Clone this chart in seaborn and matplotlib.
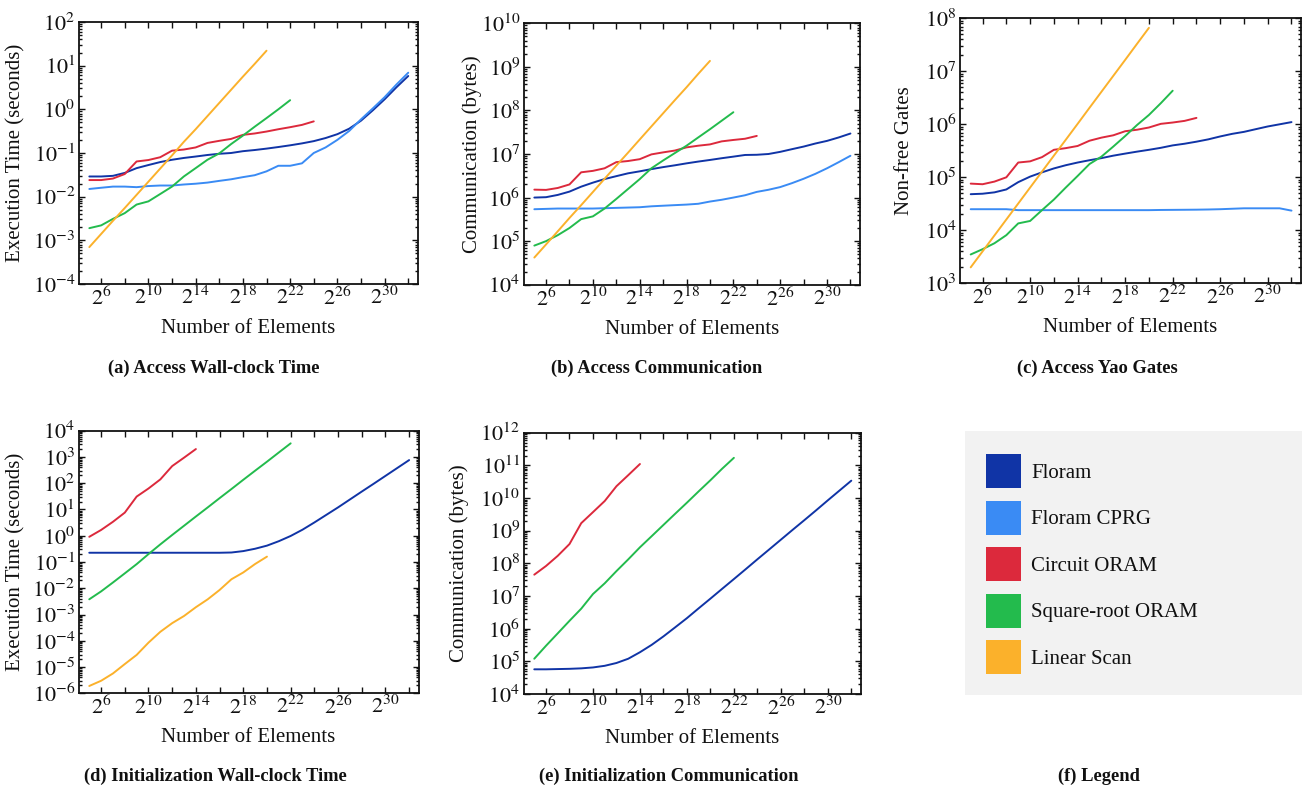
import math
import matplotlib
matplotlib.use("Agg")
import matplotlib.pyplot as plt
import seaborn as sns
import pandas as pd
from matplotlib.ticker import FixedLocator, FuncFormatter, LogLocator, NullFormatter
from matplotlib.patches import Patch

# ---------------- data ----------------
series_names = ["Floram", "Floram CPRG", "Circuit ORAM", "Square-root ORAM", "Linear Scan"]
series_colors = ["#1034A6", "#3A8BF4", "#DC293C", "#23BB4D", "#FBB12B"]

exp_5_32 = [5, 6, 7, 8, 9, 10, 11, 12, 13, 14, 15, 16, 17, 18, 19, 20, 21, 22, 23, 24, 25, 26, 27, 28, 29, 30, 31, 32]
exp_5_24 = [5, 6, 7, 8, 9, 10, 11, 12, 13, 14, 15, 16, 17, 18, 19, 20, 21, 22, 23, 24]
exp_5_22 = [5, 6, 7, 8, 9, 10, 11, 12, 13, 14, 15, 16, 17, 18, 19, 20, 21, 22]
exp_5_20 = [5, 6, 7, 8, 9, 10, 11, 12, 13, 14, 15, 16, 17, 18, 19, 20]
exp_5_14 = [5, 6, 7, 8, 9, 10, 11, 12, 13, 14]

# (a) Access wall-clock time (seconds)
a_floram = [0.029, 0.029, 0.030, 0.035, 0.045, 0.053, 0.062, 0.070, 0.077, 0.083, 0.090, 0.096, 0.10, 0.11,
            0.117, 0.126, 0.137, 0.15, 0.166, 0.187, 0.22, 0.27, 0.36, 0.55, 0.95, 1.7, 3.2, 5.8]
a_cprg = [0.015, 0.016, 0.017, 0.017, 0.0165, 0.0175, 0.018, 0.018, 0.019, 0.0198, 0.021, 0.023, 0.025, 0.028,
          0.031, 0.038, 0.051, 0.051, 0.058, 0.10, 0.134, 0.20, 0.32, 0.59, 1.05, 1.9, 3.7, 6.9]
a_circuit = [0.024, 0.024, 0.026, 0.033, 0.064, 0.069, 0.080, 0.113, 0.12, 0.134, 0.17, 0.19, 0.21, 0.26,
             0.28, 0.31, 0.35, 0.39, 0.44, 0.53]
a_sqrt = [0.0019, 0.0022, 0.0031, 0.0042, 0.0066, 0.0078, 0.0115, 0.017, 0.029, 0.045, 0.07, 0.098, 0.16,
          0.25, 0.4, 0.63, 1.0, 1.62]
a_linear = [0.0007, 0.0014, 0.0028, 0.0055, 0.011, 0.022, 0.044, 0.088, 0.18, 0.35, 0.7, 1.4, 2.8, 5.6, 11, 22]

# (b) Access communication (bytes)
b_floram = [1.0e6, 1.02e6, 1.15e6, 1.37e6, 1.78e6, 2.2e6, 2.66e6, 3.1e6, 3.6e6, 4.0e6, 4.5e6, 5.0e6, 5.5e6,
            6.1e6, 6.7e6, 7.3e6, 8.0e6, 8.7e6, 9.5e6, 9.6e6, 1.0e7, 1.12e7, 1.29e7, 1.48e7, 1.74e7, 2.0e7,
            2.4e7, 2.95e7]
b_cprg = [5.4e5, 5.5e5, 5.6e5, 5.6e5, 5.6e5, 5.6e5, 5.7e5, 5.8e5, 5.9e5, 6.0e5, 6.3e5, 6.5e5, 6.7e5, 6.9e5,
          7.2e5, 8.1e5, 8.9e5, 1.0e6, 1.13e6, 1.35e6, 1.51e6, 1.74e6, 2.14e6, 2.7e6, 3.5e6, 4.7e6, 6.5e6, 9.1e6]
b_circuit = [1.52e6, 1.5e6, 1.66e6, 2.0e6, 3.8e6, 4.1e6, 4.7e6, 6.5e6, 6.9e6, 7.6e6, 9.8e6, 1.09e7, 1.2e7,
             1.42e7, 1.55e7, 1.66e7, 1.95e7, 2.1e7, 2.24e7, 2.6e7]
b_sqrt = [7.9e4, 1.0e5, 1.37e5, 2.0e5, 3.2e5, 3.7e5, 5.6e5, 9.3e5, 1.57e6, 2.65e6, 4.7e6, 7.1e6, 1.05e7,
          1.55e7, 2.4e7, 3.7e7, 5.8e7, 9.1e7]
b_linear = [4.2e4, 8.4e4, 1.68e5, 3.4e5, 6.7e5, 1.34e6, 2.7e6, 5.4e6, 1.07e7, 2.15e7, 4.3e7, 8.6e7, 1.72e8,
            3.4e8, 6.9e8, 1.37e9]

# (c) Access Yao gates (non-free gates)
c_floram = [4.8e4, 4.9e4, 5.2e4, 5.9e4, 8.1e4, 1.03e5, 1.24e5, 1.47e5, 1.69e5, 1.9e5, 2.1e5, 2.3e5, 2.56e5,
            2.8e5, 3.05e5, 3.3e5, 3.6e5, 4.0e5, 4.3e5, 4.7e5, 5.2e5, 5.9e5, 6.6e5, 7.2e5, 8.1e5, 9.1e5,
            1.0e6, 1.1e6]
c_cprg = [2.5e4, 2.5e4, 2.5e4, 2.5e4, 2.4e4, 2.4e4, 2.4e4, 2.4e4, 2.4e4, 2.4e4, 2.4e4, 2.4e4, 2.4e4, 2.4e4,
          2.4e4, 2.4e4, 2.42e4, 2.43e4, 2.44e4, 2.45e4, 2.47e4, 2.5e4, 2.55e4, 2.6e4, 2.6e4, 2.6e4, 2.6e4,
          2.35e4]
c_circuit = [7.6e4, 7.4e4, 8.3e4, 1.0e5, 1.9e5, 2.0e5, 2.4e5, 3.3e5, 3.55e5, 3.9e5, 4.9e5, 5.6e5, 6.2e5,
             7.4e5, 7.9e5, 8.7e5, 1.02e6, 1.08e6, 1.16e6, 1.32e6]
c_sqrt = [3.5e3, 4.4e3, 5.7e3, 8.1e3, 1.35e4, 1.5e4, 2.4e4, 3.8e4, 6.4e4, 1.06e5, 1.78e5, 2.45e5, 3.8e5,
          6.0e5, 9.7e5, 1.5e6, 2.5e6, 4.3e6]
c_linear = [2.0e3, 4.0e3, 8.0e3, 1.6e4, 3.2e4, 6.4e4, 1.28e5, 2.56e5, 5.1e5, 1.02e6, 2.05e6, 4.1e6, 8.2e6,
            1.64e7, 3.3e7, 6.6e7]

# (d) Initialization wall-clock time (seconds)
d_floram = [0.225, 0.225, 0.225, 0.225, 0.225, 0.225, 0.225, 0.225, 0.225, 0.225, 0.225, 0.225, 0.23, 0.26,
            0.32, 0.42, 0.62, 0.98, 1.7, 3.2, 6.2, 12, 24, 48, 95, 190, 380, 760]
d_circuit = [0.91, 1.66, 3.4, 7.6, 31, 63, 140, 450, 940, 2000]
d_sqrt = [3.8e-3, 7.6e-3, 0.0166, 0.037, 0.083, 0.2, 0.47, 1.07, 2.4, 5.4, 12, 27, 60, 135, 300, 660, 1480, 3300]
d_linear = [1.9e-6, 3.0e-6, 5.7e-6, 1.3e-5, 2.9e-5, 8.5e-5, 2.2e-4, 4.7e-4, 8.8e-4, 1.9e-3, 3.8e-3, 8.6e-3,
            0.022, 0.04, 0.084, 0.16]

# (e) Initialization communication (bytes)
e_floram = [5.7e4, 5.7e4, 5.8e4, 5.9e4, 6.1e4, 6.5e4, 7.3e4, 8.9e4, 1.2e5, 1.9e5, 3.2e5, 5.8e5, 1.1e6, 2.1e6,
            4.2e6, 8.3e6, 1.66e7, 3.3e7, 6.6e7, 1.33e8, 2.65e8, 5.3e8, 1.06e9, 2.1e9, 4.2e9, 8.5e9, 1.7e10,
            3.4e10]
e_circuit = [4.5e7, 8.3e7, 1.7e8, 3.9e8, 1.7e9, 3.7e9, 8.1e9, 2.3e10, 5.0e10, 1.1e11]
e_sqrt = [1.2e5, 3.0e5, 7.2e5, 1.74e6, 4.1e6, 1.15e7, 2.45e7, 5.8e7, 1.32e8, 3.1e8, 6.8e8, 1.5e9, 3.3e9,
          7.2e9, 1.6e10, 3.5e10, 7.9e10, 1.7e11]

panels = [
    dict(series=[("Floram", exp_5_32, a_floram), ("Floram CPRG", exp_5_32, a_cprg),
                 ("Circuit ORAM", exp_5_24, a_circuit), ("Square-root ORAM", exp_5_22, a_sqrt),
                 ("Linear Scan", exp_5_20, a_linear)],
         ylim=(-4, 2), ylabel="Execution Time (seconds)", caption="(a) Access Wall-clock Time",
         box=(78.7, 22.0, 339, 262.0), ylab_off=53, cap=(214, 368)),
    dict(series=[("Floram", exp_5_32, b_floram), ("Floram CPRG", exp_5_32, b_cprg),
                 ("Circuit ORAM", exp_5_24, b_circuit), ("Square-root ORAM", exp_5_22, b_sqrt),
                 ("Linear Scan", exp_5_20, b_linear)],
         ylim=(4, 10), ylabel="Communication (bytes)", caption="(b) Access Communication",
         box=(523.8, 23.3, 336, 261.4), ylab_off=42, cap=(657, 368)),
    dict(series=[("Floram", exp_5_32, c_floram), ("Floram CPRG", exp_5_32, c_cprg),
                 ("Circuit ORAM", exp_5_24, c_circuit), ("Square-root ORAM", exp_5_22, c_sqrt),
                 ("Linear Scan", exp_5_20, c_linear)],
         ylim=(3, 8), ylabel="Non-free Gates", caption="(c) Access Yao Gates",
         box=(960.0, 18.3, 341, 265.0), ylab_off=46, cap=(1097, 368)),
    dict(series=[("Floram", exp_5_32, d_floram), ("Circuit ORAM", exp_5_14, d_circuit),
                 ("Square-root ORAM", exp_5_22, d_sqrt), ("Linear Scan", exp_5_20, d_linear)],
         ylim=(-6, 4), ylabel="Execution Time (seconds)", caption="(d) Initialization Wall-clock Time",
         box=(78.6, 430.7, 340, 262.6), ylab_off=53, cap=(215, 776)),
    dict(series=[("Floram", exp_5_32, e_floram), ("Circuit ORAM", exp_5_14, e_circuit),
                 ("Square-root ORAM", exp_5_22, e_sqrt)],
         ylim=(4, 12), ylabel="Communication (bytes)", caption="(e) Initialization Communication",
         box=(523.7, 432.7, 337, 261.3), ylab_off=55, cap=(669, 776)),
]

# ---------------- style ----------------
sns.set_style("ticks")
plt.rcParams["font.family"] = ["Liberation Serif", "DejaVu Serif"]
plt.rcParams["mathtext.fontset"] = "stix"

W, H = 1302, 786
fig = plt.figure(figsize=(W / 100, H / 100), dpi=100)
palette = dict(zip(series_names, series_colors))


def px_axes(l, t, w, h):
    return fig.add_axes([l / W, 1 - (t + h) / H, w / W, h / H])


for p in panels:
    rows = []
    for name, exps, vals in p["series"]:
        for e, v in zip(exps, vals):
            rows.append({"series": name, "N": 2.0 ** e, "value": v})
    df = pd.DataFrame(rows)
    l, t, w, h = p["box"]
    ax = px_axes(l, t, w, h)
    order = [s[0] for s in p["series"]]
    sns.lineplot(data=df, x="N", y="value", hue="series", hue_order=order, palette=palette,
                 estimator=None, sort=True, legend=False, linewidth=1.4, ax=ax)
    ax.set_xscale("log", base=2)
    ax.set_yscale("log", base=10)
    ax.set_xlim(2 ** 4.1, 2 ** 32.8)
    ax.set_ylim(10.0 ** p["ylim"][0], 10.0 ** p["ylim"][1])

    ax.xaxis.set_major_locator(FixedLocator([2.0 ** k for k in [6, 10, 14, 18, 22, 26, 30]]))
    ax.xaxis.set_minor_locator(FixedLocator([2.0 ** k for k in [4, 8, 12, 16, 20, 24, 28, 32]]))
    ax.xaxis.set_major_formatter(FuncFormatter(lambda x, pos: r"$2^{%d}$" % round(math.log2(x))))
    ax.xaxis.set_minor_formatter(NullFormatter())

    ax.yaxis.set_major_locator(FixedLocator([10.0 ** k for k in range(p["ylim"][0], p["ylim"][1] + 1)]))
    ax.yaxis.set_minor_locator(LogLocator(base=10, subs=[2, 3, 4, 5, 6, 7, 8, 9], numticks=30))
    ax.yaxis.set_major_formatter(FuncFormatter(lambda y, pos: r"$10^{%d}$" % round(math.log10(y))))
    ax.yaxis.set_minor_formatter(NullFormatter())

    ax.tick_params(axis="both", which="both", direction="in", top=True, right=True, colors="#111111",
                   width=1.0)
    ax.tick_params(axis="x", which="both", length=4, labelsize=16, pad=2)
    ax.tick_params(axis="y", which="major", length=4.5, labelsize=16, pad=2.5)
    ax.tick_params(axis="y", which="minor", length=2.2)
    for sp in ax.spines.values():
        sp.set_linewidth(1.3)
        sp.set_color("#111111")

    ax.set_xlabel("Number of Elements", fontsize=15, color="#111111")
    ax.set_ylabel(p["ylabel"], fontsize=15, color="#111111")
    ax.xaxis.set_label_coords(0.5, -35 / h)
    ax.yaxis.set_label_coords(-p["ylab_off"] / w, 0.5)

    fig.text(p["cap"][0] / W, 1 - p["cap"][1] / H, p["caption"], ha="center", va="center",
             fontsize=13.3, fontweight="bold", color="#111111")

# ---------------- legend panel ----------------
lax = px_axes(965, 431, 337, 264)
lax.set_facecolor("#F2F2F2")
lax.set_xticks([])
lax.set_yticks([])
for sp in lax.spines.values():
    sp.set_visible(False)
handles = [Patch(facecolor=c, edgecolor="none", label=n) for n, c in zip(series_names, series_colors)]
lax.legend(handles=handles, loc="upper left", bbox_to_anchor=(986 / W, 1 - 454 / H),
           bbox_transform=fig.transFigure, frameon=False, fontsize=15, borderpad=0, borderaxespad=0,
           handlelength=1.68, handleheight=2.14, handletextpad=0.5, labelspacing=0.6,
           labelcolor="#111111")
fig.text(1099 / W, 1 - 776 / H, "(f) Legend", ha="center", va="center", fontsize=13.3, fontweight="bold",
         color="#111111")

fig.savefig("out.png", dpi=100)
